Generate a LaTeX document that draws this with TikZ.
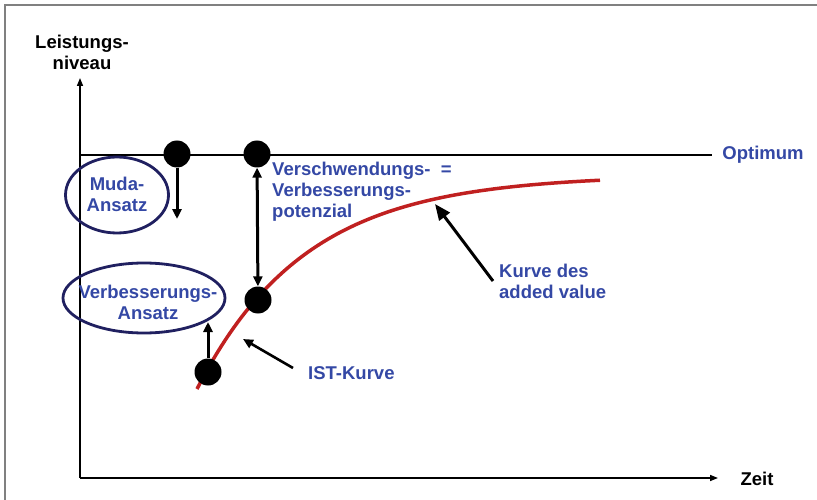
\documentclass[tikz,border=0pt]{standalone}
\usepackage{fontspec}
\setmainfont{Liberation Sans}
\usetikzlibrary{arrows.meta,shapes.geometric}
\definecolor{txtblue}{RGB}{52,72,165}
\definecolor{ellblue}{RGB}{32,32,96}
\definecolor{curvered}{RGB}{192,32,32}
\begin{document}
\begin{tikzpicture}[x=1pt,y=-1pt,
  lbl/.style={font=\bfseries\fontsize{18.5}{21}\selectfont, inner sep=0pt},
  bluelbl/.style={lbl, text=txtblue},
  blacklbl/.style={lbl, text=black},
  ell/.style={ellipse, draw=ellblue, line width=2.8pt, inner sep=0pt},
  dot/.style={circle, fill=black, minimum size=27pt, inner sep=0pt},
  axis/.style={line width=1.5pt, -{Triangle[length=8pt,width=6pt]}},
  bigarrow/.style={line width=3pt, -{Triangle[length=10pt,width=9pt]}},
  dblarrow/.style={line width=3pt, {Triangle[length=10pt,width=9pt]}-{Triangle[length=10pt,width=9pt]}},
  ptr/.style={line width=2.6pt, -{Triangle[length=10pt,width=9pt]}},
  ptrbig/.style={line width=3pt, -{Triangle[length=16pt,width=13pt]}},
]
\useasboundingbox (0,0) rectangle (817,500);
\draw[gray, line width=1.5pt] (5,500) -- (5,5) -- (817,5);

% axes
\coordinate (o) at (80,478);
\coordinate (ytop) at (80,78);
\coordinate (xend) at (718,478);
\draw[axis] (o) -- (ytop);
\draw[axis] (o) -- (xend);

% optimum line
\coordinate (optL) at (80,155);
\coordinate (optR) at (712,155);
\draw[line width=1.5pt] (optL) -- (optR);

% labels
\node[blacklbl, align=center] (ylab) at (82,52) {Leistungs-\\niveau};
\node[blacklbl] (xlab) at (757,479) {Zeit};
\node[bluelbl] (opt) at (763,155) {Optimum};

% curve
\draw[curvered, line width=3.5pt] plot[domain=197:600, samples=100] (\x, {175+214*exp(-0.0092*(\x-197))});

% ellipses
\node[ell, minimum width=103pt, minimum height=76pt] (muda) at (117,195) {};
\node[bluelbl, align=center] (mudat) at (117,194) {Muda-\\Ansatz};
\node[ell, minimum width=162pt, minimum height=70pt] (verb) at (144,298) {};
\node[bluelbl, align=center] (verbt) at (148,302) {Verbesserungs-\\Ansatz};

% dots
\node[dot] (d1) at (177,154) {};
\node[dot] (d2) at (257,154) {};
\node[dot] (d3) at (258,300) {};
\node[dot] (d4) at (208,372) {};

% arrows at dots
\coordinate (a1) at (177,219);
\draw[bigarrow] (d1.south) -- (a1);
\draw[dblarrow] (d2) -- (d3);
\coordinate (a4) at (208,322);
\draw[bigarrow] (d4.north) -- (a4);

% texts
\node[bluelbl, align=left, anchor=west] (potz) at (272,192) {Verschwendungs-\ \ =\\Verbesserungs-\\potenzial};
\node[bluelbl, align=left, anchor=west] (kurve) at (499,281) {Kurve des\\added value};
\node[bluelbl, anchor=west] (ist) at (308,373) {IST-Kurve};

% pointers
\coordinate (istT) at (293,368);
\coordinate (istH) at (243,339);
\draw[ptr] (istT) -- (istH);
\coordinate (kT) at (493,281);
\coordinate (kH) at (435,204);
\draw[ptrbig] (kT) -- (kH);
\end{tikzpicture}
\end{document}
